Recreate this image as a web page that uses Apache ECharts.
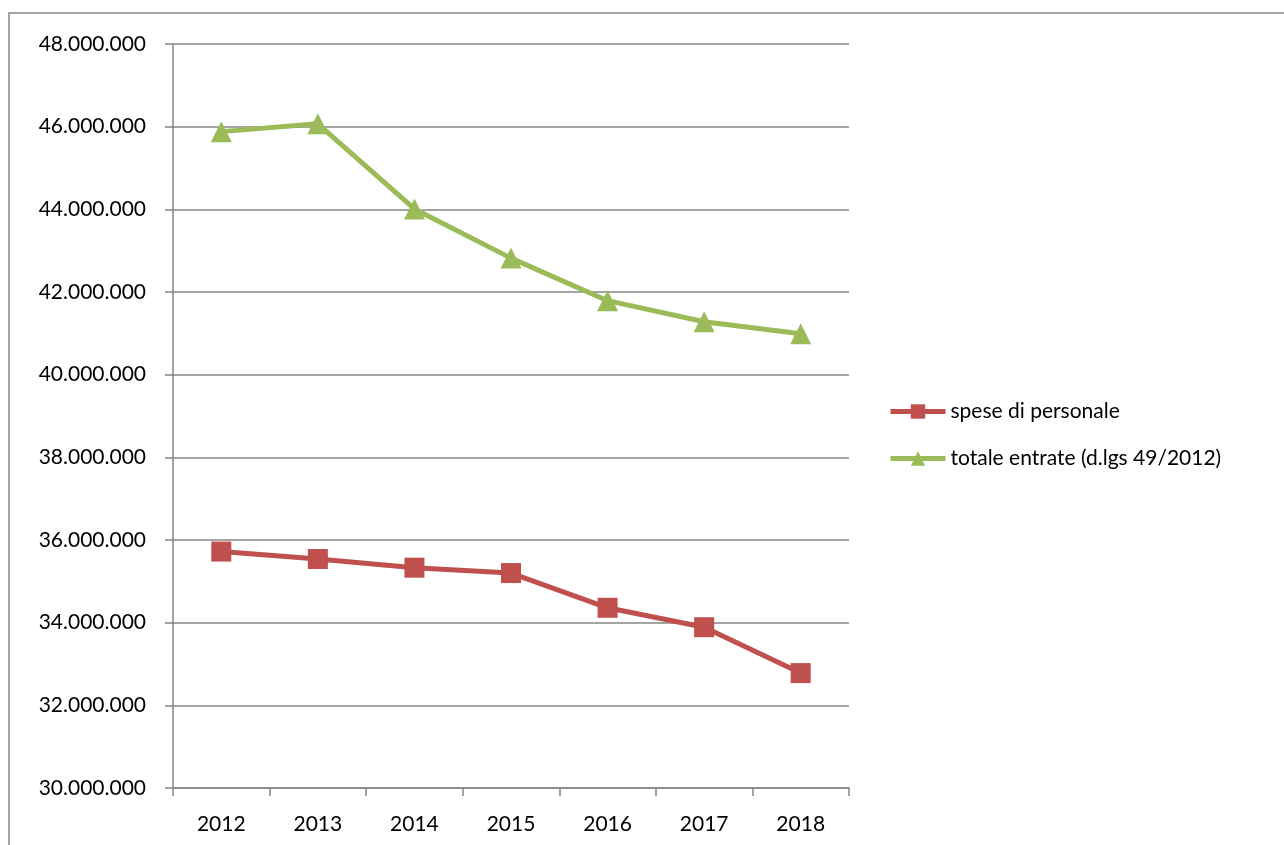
<!DOCTYPE html>
<html>
<head>
<meta charset="utf-8">
<script src="https://cdn.jsdelivr.net/npm/echarts@6/dist/echarts.min.js"></script>
<style>
html,body{margin:0;padding:0;background:#fff;}
#c{width:1284px;height:845px;}
</style>
</head>
<body>
<div id="c"></div>
<script>
var categories = ['2012','2013','2014','2015','2016','2017','2018'];
var spesePersonale = [35720000, 35540000, 35330000, 35200000, 34360000, 33890000, 32780000];
var totaleEntrate = [45880000, 46070000, 44010000, 42820000, 41790000, 41280000, 40990000];
var seriesNames = ['spese di personale', 'totale entrate (d.lgs 49/2012)'];
var yMin = 30000000, yMax = 48000000, yStep = 2000000;

function fmt(v){
  return String(Math.round(v)).replace(/\B(?=(\d{3})+(?!\d))/g, '.');
}

var chart = echarts.init(document.getElementById('c'));
var font = 'Lato, "Open Sans", sans-serif';
chart.setOption({
  animation: false,
  textStyle: {fontFamily: font},
  graphic: [{
    type: 'rect', silent: true,
    shape: {x: 9, y: 13, width: 1290, height: 850},
    style: {fill: 'none', stroke: '#868686', lineWidth: 1.5}
  }],
  grid: {left: 173, right: 435, top: 44, bottom: 57, containLabel: false},
  legend: {
    orient: 'vertical', left: 888, top: 401, padding: 0,
    itemWidth: 55, itemHeight: 18, itemGap: 26,
    lineStyle: {width: 5},
    textStyle: {fontSize: 21, color: '#000', fontFamily: font},
    data: seriesNames
  },
  xAxis: {
    type: 'category', data: categories, boundaryGap: true,
    axisLine: {lineStyle: {color: '#868686', width: 1.5}},
    axisTick: {show: true, length: 8, inside: false, lineStyle: {color: '#868686', width: 1.5}},
    axisLabel: {fontSize: 21, color: '#000', margin: 26, fontFamily: font},
    splitLine: {show: false}
  },
  yAxis: {
    type: 'value', min: yMin, max: yMax, interval: yStep,
    axisLine: {show: true, lineStyle: {color: '#868686', width: 1.5}},
    axisTick: {show: true, length: 8, lineStyle: {color: '#868686', width: 1.5}},
    axisLabel: {fontSize: 21, color: '#000', margin: 27, fontFamily: font, formatter: fmt},
    splitLine: {show: true, lineStyle: {color: '#868686', width: 1.5}}
  },
  series: [{
    name: seriesNames[0], type: 'line', data: spesePersonale,
    symbol: 'rect', symbolSize: 20,
    lineStyle: {color: '#C0504D', width: 5},
    itemStyle: {color: '#C0504D'}
  },{
    name: seriesNames[1], type: 'line', data: totaleEntrate,
    symbol: 'triangle', symbolSize: 21,
    lineStyle: {color: '#9BBB59', width: 5},
    itemStyle: {color: '#9BBB59'}
  }]
});
</script>
</body>
</html>
